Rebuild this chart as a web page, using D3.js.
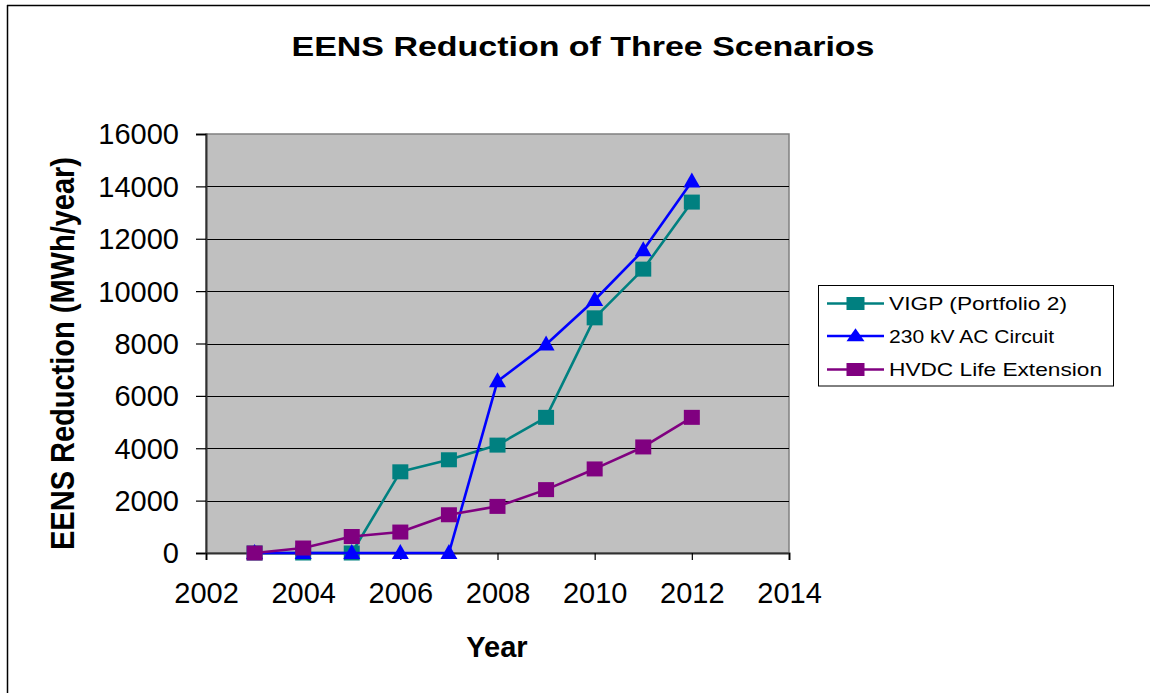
<!DOCTYPE html>
<html><head><meta charset="utf-8">
<script src="https://cdn.jsdelivr.net/npm/d3@7"></script>
<style>html,body{margin:0;padding:0;background:#fff;}svg{display:block;font-family:"Liberation Sans",Arial,sans-serif;}</style>
</head><body>
<svg id="chart" width="1150" height="693"></svg>
<script>
const years = [2003,2004,2005,2006,2007,2008,2009,2010,2011,2012];
const vigp = [0,0,0,3100,3560,4120,5180,8980,10840,13400];
const ac230 = [0,0,0,0,0,6560,7960,9660,11560,14190];
const hvdc = [0,190,630,800,1460,1780,2420,3210,4050,5180];
const seriesNames = ["VIGP (Portfolio 2)","230 kV AC Circuit","HVDC Life Extension"];
const seriesColors = ["#008080","#0000FF","#800080"];
const seriesMarkers = ["square","triangle","square"];
const xTicks = [2002,2004,2006,2008,2010,2012,2014];
const yTicks = [0,2000,4000,6000,8000,10000,12000,14000,16000];

const svg = d3.select("#chart");
const L=206, R=789, T=134, B=553;
const x = d3.scaleLinear().domain([2002,2014]).range([L,R]);
const y = d3.scaleLinear().domain([0,16000]).range([B,T]);

// outer border (top and left)
svg.append("line").attr("x1",7).attr("x2",1150).attr("y1",5.5).attr("y2",5.5).attr("stroke","#000").attr("stroke-width",1.5);
svg.append("line").attr("x1",7.5).attr("x2",7.5).attr("y1",5).attr("y2",693).attr("stroke","#000").attr("stroke-width",1.5);

// plot area
svg.append("rect").attr("x",L).attr("y",T).attr("width",R-L).attr("height",B-T).attr("fill","#C0C0C0").attr("stroke","#808080").attr("stroke-width",1.5);

// gridlines
svg.append("g").selectAll("line").data(yTicks.filter(d=>d>0 && d<16000)).join("line")
  .attr("x1",L).attr("x2",R).attr("y1",d=>Math.round(y(d))+0.5).attr("y2",d=>Math.round(y(d))+0.5)
  .attr("stroke","#000").attr("stroke-width",1);

// axes
const yAxis = d3.axisLeft(y).tickValues(yTicks).tickSize(10).tickPadding(17).tickFormat(d3.format("d"));
const gy = svg.append("g").attr("transform",`translate(${L},0)`).call(yAxis);
const xAxis = d3.axisBottom(x).tickValues(xTicks).tickSize(7).tickPadding(22).tickFormat(d3.format("d"));
const gx = svg.append("g").attr("transform",`translate(0,${B})`).call(xAxis);
[gx,gy].forEach(g=>{
  g.select(".domain").attr("stroke","#303030").attr("stroke-width",2);
  g.selectAll(".tick line").attr("stroke","#000").attr("stroke-width",1.2);
  g.selectAll(".tick text").attr("fill","#000").style("font-size","29px").style("font-family",'"Liberation Sans",Arial,sans-serif');
});
gy.selectAll(".tick text").attr("dy","0.34em");
gx.selectAll(".tick text").attr("dy","0.71em");

// series
const allSeries = [vigp, ac230, hvdc];
const line = d3.line().x((d,i)=>x(years[i])).y(d=>y(d));
function marker(g, type, cx, cy, color, w, h){
  if(type==="square"){
    g.append("rect").attr("x",cx-w/2).attr("y",cy-h/2).attr("width",w).attr("height",h).attr("fill",color);
  } else {
    g.append("path").attr("d",`M${cx},${cy-h*0.6}L${cx+w/2},${cy+h*0.4}L${cx-w/2},${cy+h*0.4}Z`).attr("fill",color);
  }
}
allSeries.forEach((vals,si)=>{
  const g = svg.append("g");
  g.append("path").datum(vals).attr("d",line).attr("fill","none").attr("stroke",seriesColors[si]).attr("stroke-width",2.6).attr("stroke-linejoin","round");
  vals.forEach((v,i)=>{
    if(seriesMarkers[si]==="square") marker(g,"square",x(years[i]),y(v),seriesColors[si],16,15);
    else marker(g,"triangle",x(years[i]),y(v),seriesColors[si],17,15);
  });
});

// title & axis titles
svg.append("text").attr("x",583).attr("y",56).attr("text-anchor","middle").style("font-size","28px").style("font-weight","bold")
  .attr("textLength",583).attr("lengthAdjust","spacingAndGlyphs").text("EENS Reduction of Three Scenarios");
svg.append("text").attr("transform","translate(74,353.5) scale(1.17,1) rotate(-90)").attr("text-anchor","middle").style("font-size","29px").style("font-weight","bold").text("EENS Reduction (MWh/year)");
svg.append("text").attr("x",497).attr("y",657).attr("text-anchor","middle").style("font-size","29px").style("font-weight","bold").text("Year");

// legend
const lg = svg.append("g");
lg.append("rect").attr("x",818.5).attr("y",285.5).attr("width",295).attr("height",100.5).attr("fill","#fff").attr("stroke","#000").attr("stroke-width",1);
const rowY = [303.5,336,369.5];
const textLens = [178,165,213];
seriesNames.forEach((name,i)=>{
  lg.append("line").attr("x1",827).attr("x2",884).attr("y1",rowY[i]).attr("y2",rowY[i]).attr("stroke",seriesColors[i]).attr("stroke-width",2.6);
  marker(lg, seriesMarkers[i], 855.5, rowY[i], seriesColors[i], 18, 13);
  lg.append("text").attr("x",889).attr("y",rowY[i]+6.5).style("font-size","18.5px")
    .attr("textLength",textLens[i]).attr("lengthAdjust","spacingAndGlyphs").text(name);
});
</script>
</body></html>
